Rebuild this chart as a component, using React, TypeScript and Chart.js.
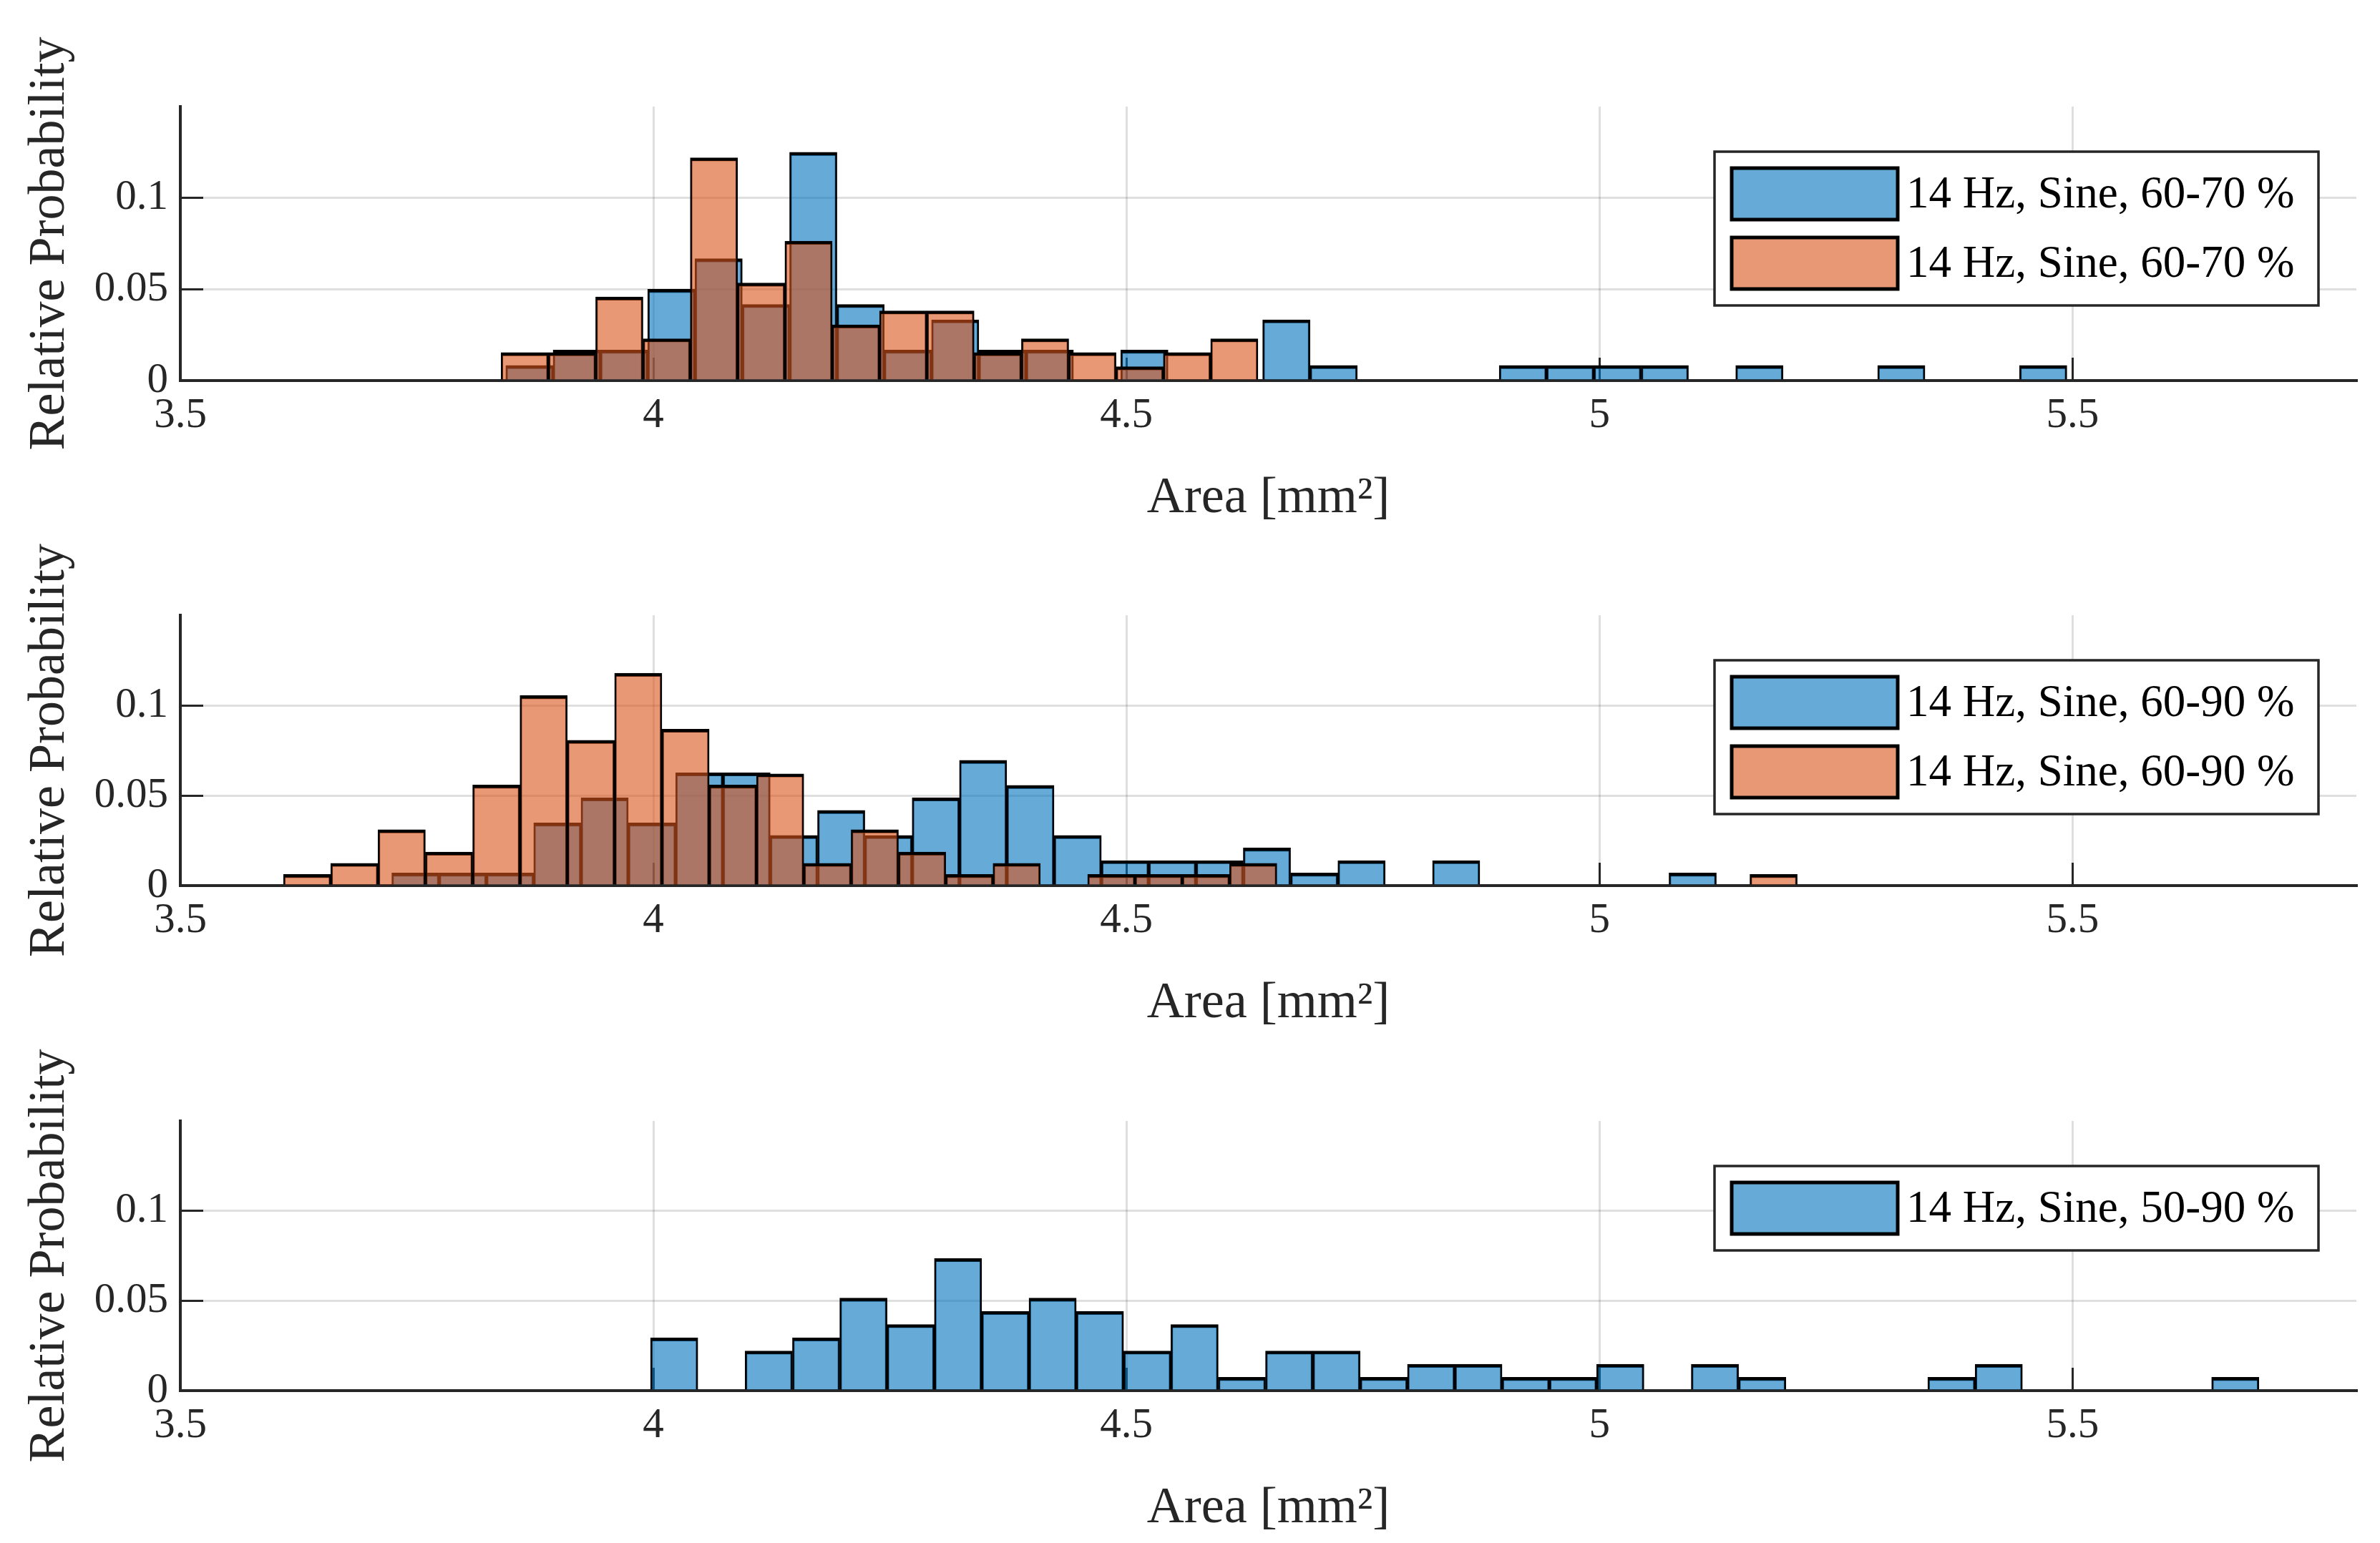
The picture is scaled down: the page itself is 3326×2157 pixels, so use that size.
import React, { useEffect, useRef } from 'react';
import { Chart, registerables } from 'chart.js';

Chart.register(...registerables);

// ---------- data ----------
const xTicks = [3.5, 4, 4.5, 5, 5.5];
const yTicks = [0, 0.05, 0.1];
const xMin = 3.5;
const xMax = 5.8;
const yMin = 0;
const yMax = 0.15;

const xTitle = 'Area [mm²]';
const yTitle = 'Relative Probability';

// Plot 1
const p1BlueLabel = '14 Hz, Sine, 60-70 %';
const p1OrangeLabel = '14 Hz, Sine, 60-70 %';
const p1BlueCenters = [
  3.869, 3.919, 3.969, 4.019, 4.069, 4.119, 4.169, 4.219, 4.269, 4.319,
  4.369, 4.419, 4.469, 4.519, 4.569, 4.619, 4.669, 4.719, 4.769, 4.819,
  4.869, 4.919, 4.969, 5.019, 5.069, 5.119, 5.169, 5.219, 5.269, 5.319,
  5.369, 5.419, 5.469,
];
const p1BlueValues = [
  0.0083, 0.0167, 0.0167, 0.05, 0.0667, 0.0417, 0.125, 0.0417, 0.0167, 0.0333,
  0.0167, 0.0167, 0, 0.0167, 0, 0, 0.0333, 0.0083, 0, 0,
  0, 0.0083, 0.0083, 0.0083, 0.0083, 0, 0.0083, 0, 0, 0.0083,
  0, 0, 0.0083,
];
const p1OrangeCenters = [
  3.864, 3.914, 3.964, 4.014, 4.064, 4.114, 4.164, 4.214, 4.264, 4.314,
  4.364, 4.414, 4.464, 4.514, 4.564, 4.614,
];
const p1OrangeValues = [
  0.0153, 0.0153, 0.0458, 0.0229, 0.122, 0.0534, 0.0763, 0.0305, 0.0382, 0.0382,
  0.0153, 0.0229, 0.0153, 0.0076, 0.0153, 0.0229,
];

// Plot 2
const p2BlueLabel = '14 Hz, Sine, 60-90 %';
const p2OrangeLabel = '14 Hz, Sine, 60-90 %';
const p2BlueCenters = [
  3.7485, 3.7985, 3.8485, 3.8985, 3.9485, 3.9985, 4.0485, 4.0985, 4.1485, 4.1985,
  4.2485, 4.2985, 4.3485, 4.3985, 4.4485, 4.4985, 4.5485, 4.5985, 4.6485, 4.6985,
  4.7485, 4.7985, 4.8485, 4.8985, 4.9485, 4.9985, 5.0485, 5.0985,
];
const p2BlueValues = [
  0.007, 0.007, 0.007, 0.0348, 0.0487, 0.0348, 0.0626, 0.0626, 0.0278, 0.0417,
  0.0278, 0.0487, 0.0695, 0.0556, 0.0278, 0.0139, 0.0139, 0.0139, 0.0209, 0.007,
  0.0139, 0, 0.0139, 0, 0, 0, 0, 0.007,
];
const p2OrangeCenters = [
  3.634, 3.684, 3.734, 3.784, 3.834, 3.884, 3.934, 3.984, 4.034, 4.084,
  4.134, 4.184, 4.234, 4.284, 4.334, 4.384, 4.434, 4.484, 4.534, 4.584,
  4.634, 4.684, 4.734, 4.784, 4.834, 4.884, 4.934, 4.984, 5.034, 5.084,
  5.134, 5.184,
];
const p2OrangeValues = [
  0.0062, 0.0124, 0.031, 0.0186, 0.0558, 0.1054, 0.0806, 0.1178, 0.0868, 0.0558,
  0.062, 0.0124, 0.031, 0.0186, 0.0062, 0.0124, 0, 0.0062, 0.0062, 0.0062,
  0.0124, 0, 0, 0, 0, 0, 0, 0, 0, 0,
  0, 0.0062,
];

// Plot 3
const p3BlueLabel = '14 Hz, Sine, 50-90 %';
const p3BlueCenters = [
  4.022, 4.072, 4.122, 4.172, 4.222, 4.272, 4.322, 4.372, 4.422, 4.472,
  4.522, 4.572, 4.622, 4.672, 4.722, 4.772, 4.822, 4.872, 4.922, 4.972,
  5.022, 5.072, 5.122, 5.172, 5.222, 5.272, 5.322, 5.372, 5.422, 5.472,
  5.522, 5.572, 5.622, 5.672,
];
const p3BlueValues = [
  0.0294, 0, 0.0221, 0.0294, 0.0515, 0.0368, 0.0735, 0.0441, 0.0515, 0.0441,
  0.0221, 0.0368, 0.0074, 0.0221, 0.0221, 0.0074, 0.0147, 0.0147, 0.0074, 0.0074,
  0.0147, 0, 0.0147, 0.0074, 0, 0, 0, 0.0074, 0.0147, 0,
  0, 0, 0, 0.0074,
];

// ---------- styles ----------
const FONT = "'Liberation Serif', 'DejaVu Serif', serif";
const AXIS_COLOR = '#262626';
const GRID_COLOR = 'rgba(38,38,38,0.15)';
const BLUE_FILL = 'rgba(0,114,189,0.6)';
const ORANGE_FILL = 'rgba(217,83,25,0.6)';

const PAGE_W = 3326;
const PAGE_H = 2157;
const PAD_TOP = 149;
const AREA_LEFT = 252;
const AREA_RIGHT = 3293;
const XAXIS_H = 218;
const AREA_TOPS = [149, 860, 1567];
const AREA_HEIGHTS = [383, 378, 377];

const TICK_FONT = 59;
const TITLE_FONT = 72;
const LEGEND_FONT = 63;
const INNER_TICK = 32;

type Series = {
  label: string;
  centers: number[];
  values: number[];
  fill: string;
  order: number;
};

const boxLegend = {
  id: 'boxLegend',
  afterDraw(chart: any) {
    const { ctx, chartArea } = chart;
    const ds = chart.data.datasets;
    const n = ds.length;
    const boxW = 844;
    const pad = 23;
    const swW = 232;
    const swH = 72;
    const gap = 25;
    const boxH = pad * 2 + n * swH + (n - 1) * gap;
    const x0 = chartArea.right - 53 - boxW;
    const y0 = chartArea.top + 63;
    ctx.save();
    ctx.fillStyle = '#ffffff';
    ctx.fillRect(x0, y0, boxW, boxH);
    ctx.lineWidth = 3.5;
    ctx.strokeStyle = AXIS_COLOR;
    ctx.strokeRect(x0, y0, boxW, boxH);
    ds.forEach((d: any, i: number) => {
      const sx = x0 + 24;
      const sy = y0 + pad + i * (swH + gap);
      ctx.fillStyle = '#ffffff';
      ctx.fillRect(sx, sy, swW, swH);
      ctx.fillStyle = d.backgroundColor;
      ctx.fillRect(sx, sy, swW, swH);
      ctx.lineWidth = 5;
      ctx.strokeStyle = '#000000';
      ctx.strokeRect(sx, sy, swW, swH);
      ctx.fillStyle = '#000000';
      ctx.font = `${LEGEND_FONT}px ${FONT}`;
      ctx.textBaseline = 'middle';
      ctx.textAlign = 'left';
      ctx.fillText(d.label, x0 + 268, sy + swH / 2 + 2);
    });
    ctx.restore();
  },
};

function buildConfig(series: Series[]): any {
  const datasets = series.map((s, i) => ({
    type: 'bar',
    label: s.label,
    data: s.centers.map((c, j) => ({ x: c, y: s.values[j] })),
    xAxisID: i === 0 ? 'x' : 'x2',
    backgroundColor: s.fill,
    borderColor: '#000000',
    borderWidth: { top: 4.5, left: 2.5, right: 2.5, bottom: 0 },
    barPercentage: 1,
    categoryPercentage: 1,
    grouped: false,
    order: s.order,
  }));

  const gridCommon = {
    offset: false,
    color: GRID_COLOR,
    lineWidth: 3,
    drawTicks: true,
    tickLength: -INNER_TICK,
    tickColor: AXIS_COLOR,
    tickWidth: 3,
  };
  const borderCommon = { display: true, color: AXIS_COLOR, width: 4 };

  return {
    type: 'bar',
    data: { datasets },
    plugins: [boxLegend],
    options: {
      animation: false,
      responsive: false,
      maintainAspectRatio: false,
      devicePixelRatio: 1,
      layout: { padding: { left: 0, right: PAGE_W - AREA_RIGHT, top: PAD_TOP, bottom: 0 } },
      plugins: {
        legend: { display: false },
        tooltip: { enabled: false },
        title: { display: false },
      },
      scales: {
        x: {
          type: 'linear',
          position: 'bottom',
          min: xMin,
          max: xMax,
          offset: false,
          afterBuildTicks: (s: any) => {
            s.ticks = xTicks.map((v) => ({ value: v }));
          },
          afterFit: (s: any) => {
            s.height = XAXIS_H;
          },
          ticks: {
            font: { family: FONT, size: TICK_FONT },
            color: AXIS_COLOR,
            padding: INNER_TICK + 14,
            maxRotation: 0,
            autoSkip: false,
            callback: (v: any) => String(v),
          },
          grid: gridCommon,
          border: borderCommon,
          title: {
            display: true,
            text: xTitle,
            font: { family: FONT, size: TITLE_FONT },
            color: AXIS_COLOR,
            padding: { top: 0, bottom: 10 },
          },
        },
        x2: {
          type: 'linear',
          position: 'bottom',
          display: false,
          min: xMin,
          max: xMax,
          offset: false,
          grid: { offset: false },
          afterBuildTicks: (s: any) => {
            s.ticks = xTicks.map((v) => ({ value: v }));
          },
        },
        y: {
          type: 'linear',
          min: yMin,
          max: yMax,
          afterBuildTicks: (s: any) => {
            s.ticks = yTicks.map((v) => ({ value: v }));
          },
          afterFit: (s: any) => {
            s.width = AREA_LEFT;
          },
          ticks: {
            font: { family: FONT, size: TICK_FONT },
            color: AXIS_COLOR,
            padding: INNER_TICK + 17,
            autoSkip: false,
            callback: (v: any) => String(v),
          },
          grid: gridCommon,
          border: borderCommon,
          title: {
            display: true,
            text: yTitle,
            font: { family: FONT, size: TITLE_FONT },
            color: AXIS_COLOR,
            padding: { top: 27, bottom: 0 },
          },
        },
      },
    },
  };
}

const plotSeries: Series[][] = [
  [
    { label: p1BlueLabel, centers: p1BlueCenters, values: p1BlueValues, fill: BLUE_FILL, order: 1 },
    { label: p1OrangeLabel, centers: p1OrangeCenters, values: p1OrangeValues, fill: ORANGE_FILL, order: 0 },
  ],
  [
    { label: p2BlueLabel, centers: p2BlueCenters, values: p2BlueValues, fill: BLUE_FILL, order: 1 },
    { label: p2OrangeLabel, centers: p2OrangeCenters, values: p2OrangeValues, fill: ORANGE_FILL, order: 0 },
  ],
  [{ label: p3BlueLabel, centers: p3BlueCenters, values: p3BlueValues, fill: BLUE_FILL, order: 1 }],
];

export default function App() {
  const r1 = useRef<HTMLCanvasElement>(null);
  const r2 = useRef<HTMLCanvasElement>(null);
  const r3 = useRef<HTMLCanvasElement>(null);
  const refs = [r1, r2, r3];

  useEffect(() => {
    const charts: Chart[] = [];
    refs.forEach((r, i) => {
      if (r.current) {
        charts.push(new Chart(r.current, buildConfig(plotSeries[i])));
      }
    });
    return () => {
      charts.forEach((c) => c.destroy());
    };
  }, []);

  return (
    <div
      style={{
        position: 'fixed',
        left: 0,
        top: 0,
        width: PAGE_W,
        height: PAGE_H,
        background: '#ffffff',
        overflow: 'hidden',
      }}
    >
      {refs.map((r, i) => {
        const h = PAD_TOP + AREA_HEIGHTS[i] + XAXIS_H;
        return (
          <canvas
            key={i}
            ref={r}
            width={PAGE_W}
            height={h}
            style={{
              position: 'absolute',
              left: 0,
              top: AREA_TOPS[i] - PAD_TOP,
              width: PAGE_W,
              height: h,
            }}
          />
        );
      })}
    </div>
  );
}
